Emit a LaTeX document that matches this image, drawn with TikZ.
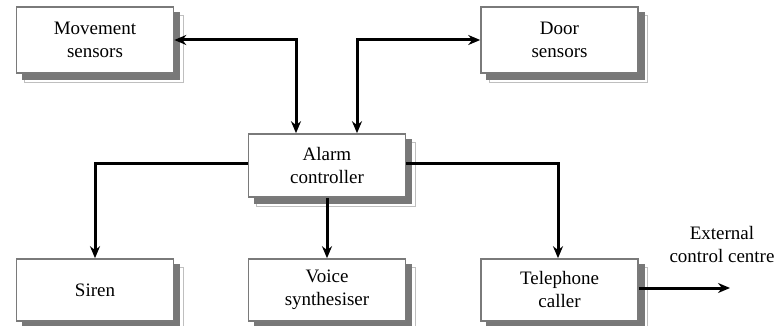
\documentclass[tikz,border=0pt]{standalone}
\usepackage{fontspec}
\setmainfont{Liberation Serif}
\usetikzlibrary{arrows.meta,backgrounds}

\definecolor{boxline}{gray}{0.48}
\definecolor{shadowdark}{gray}{0.47}
\definecolor{shadowlight}{gray}{0.75}

\tikzset{
  unit/.style={
    draw=boxline, line width=1.6pt, fill=white, text=black,
    minimum width=157pt, minimum height=64pt, inner sep=0pt,
    align=center, font=\fontsize{19}{23}\selectfont
  },
  shadowrim/.style={draw=shadowlight, line width=1pt, fill=white},
  shadowbody/.style={draw=none, fill=shadowdark},
  link/.style={line width=3pt, -{Stealth[length=12pt,width=10pt]}},
  duplex/.style={line width=3pt, {Stealth[length=12pt,width=10pt]}-{Stealth[length=12pt,width=10pt]}},
  note/.style={align=center, font=\fontsize{19}{23}\selectfont, inner sep=0pt}
}

\begin{document}
\begin{tikzpicture}[x=1pt, y=-1pt]
  \useasboundingbox (0,0) rectangle (780,326);

  % sensor units
  \node[unit, minimum height=66pt] (move) at (95,40) {Movement\\sensors};
  \node[unit, minimum height=66pt] (door) at (559.5,40) {Door\\sensors};

  % controller
  \node[unit, minimum height=63pt] (ctrl) at (327,165.5) {Alarm\\controller};

  % output units
  \node[unit, minimum height=62pt] (siren) at (95,290) {Siren};
  \node[unit, minimum height=62pt] (voice) at (327,290) {Voice\\synthesiser};
  \node[unit, minimum height=62pt] (phone) at (559.5,290) {Telephone\\caller};

  % drop shadows behind every unit
  \begin{scope}[on background layer]
    \foreach \u in {move,door,ctrl,siren,voice,phone} {
      \draw[shadowrim] ([shift={(9pt,-9pt)}]\u.north west) rectangle ([shift={(9pt,-9pt)}]\u.south east);
      \fill[shadowbody] ([shift={(6pt,-6pt)}]\u.north west) rectangle ([shift={(6pt,-6pt)}]\u.south east);
    }
  \end{scope}

  % external destination
  \node[note] (ext) at (722,245) {External\\control centre};
  \coordinate (extend) at (730,288);

  % sensor links (two-way)
  \draw[duplex] (move.east |- 0,40) -- (296,40) -- (296,0 |- ctrl.north);
  \draw[duplex] (357,0 |- ctrl.north) -- (357,40) -- (door.west |- 0,40);

  % controller outputs
  \draw[link] (ctrl.west |- 0,164) -- (95,164) -- (siren.north);
  \draw[link] (ctrl.south) -- (voice.north);
  \draw[link] (ctrl.east |- 0,164) -- (558,164) -- (558,0 |- phone.north);
  \draw[link] (phone.east |- 0,288) -- (extend);
\end{tikzpicture}
\end{document}
